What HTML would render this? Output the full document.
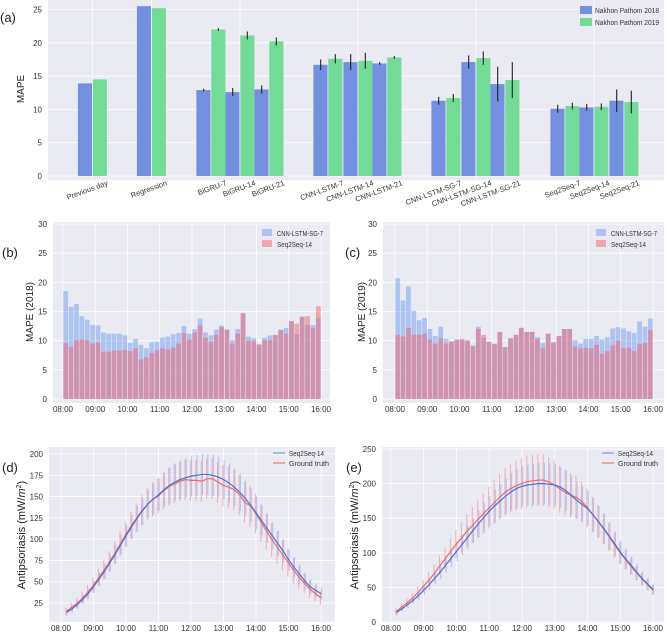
<!DOCTYPE html>
<html><head><meta charset="utf-8"><style>
html,body{margin:0;padding:0;background:#fff;}
svg{display:block;font-family:"Liberation Sans","DejaVu Sans",sans-serif;}
</style></head><body>
<svg id="fig" width="667" height="633" viewBox="0 0 667 633" xmlns="http://www.w3.org/2000/svg"></svg>
<script>
// ---- Panel (a) data ----
const aCats = ["Previous day","Regression","BiGRU-7","BiGRU-14","BiGRU-21","CNN-LSTM-7","CNN-LSTM-14","CNN-LSTM-21","CNN-LSTM-SG-7","CNN-LSTM-SG-14","CNN-LSTM-SG-21","Seq2Seq-7","Seq2Seq-14","Seq2Seq-21"];
const a2018 = [13.9,25.5,12.9,12.6,13.0,16.7,17.1,16.9,11.3,17.1,13.8,10.1,10.3,11.3];
const a2019 = [14.5,25.2,22.0,21.1,20.2,17.6,17.3,17.8,11.7,17.7,14.4,10.5,10.4,11.1];
const aErr2018 = [0,0,0.2,0.6,0.6,0.8,1.2,0.2,0.6,1.0,2.6,0.6,0.5,1.7];
const aErr2019 = [0,0,0.2,0.6,0.6,0.7,1.2,0.2,0.6,1.0,2.7,0.5,0.5,1.7];
const aTicks = [0,5,10,15,20,25];
// ---- Panels (b),(c) data ----
const timeTicks = ["08:00","09:00","10:00","11:00","12:00","13:00","14:00","15:00","16:00"];
const mapeTicks = [0,5,10,15,20,25,30];
const b_cnn = [18.5,15.8,16.3,14.2,13.6,12.7,12.6,11.4,11.2,11.2,11.2,10.9,9.6,10.3,9.3,8.7,9.7,9.8,10.5,10.7,11.1,11.3,12.5,11.2,12.0,13.8,11.4,10.9,11.9,12.6,11.9,10.1,12.0,14.7,10.7,10.4,9.4,10.5,10.9,10.9,11.9,12.2,13.4,11.1,14.1,12.7,12.7,13.9];
const b_seq = [9.6,8.9,10.1,10.2,10.1,9.5,9.7,8.1,8.1,8.3,8.3,8.4,8.2,8.7,6.8,7.1,7.9,8.4,8.7,8.5,8.8,9.5,11.3,10.2,11.4,12.7,10.5,9.8,11.0,12.3,11.9,9.5,11.2,14.7,10.0,10.0,9.3,10.1,10.1,11.0,11.8,11.2,13.3,12.9,14.1,14.2,12.2,15.9];
const c_cnn = [20.7,16.9,19.3,15.1,13.5,13.9,12.0,10.8,12.4,10.3,9.9,10.2,10.1,9.9,9.2,12.4,10.5,9.8,9.5,11.5,8.9,10.4,11.0,12.2,11.5,11.5,10.6,9.6,11.2,9.7,10.8,12.0,12.0,10.1,9.5,10.3,10.3,10.8,10.2,10.6,12.1,12.3,12.1,11.6,11.3,13.3,12.4,13.8];
const c_seq = [11.0,10.7,12.2,11.0,11.0,11.2,10.2,9.5,10.4,9.5,9.8,10.1,10.3,10.1,9.0,12.0,11.0,9.8,9.4,11.5,8.9,10.4,11.0,12.2,11.5,11.5,10.3,8.7,11.2,9.7,10.8,12.0,12.0,9.0,8.7,8.8,8.7,9.3,7.7,8.2,9.2,10.0,8.7,8.8,8.2,9.4,9.6,11.8];
// ---- Panels (d),(e) data ----
const dTicks = [25,50,75,100,125,150,175,200];
const eTicks = [0,50,100,150,200,250];
const d_pred = [14,18,23,29,36,44,53,62,72,82,93,104,114,124,133,141,147,152,158,163,167,170,172,174,175,176,176,175,173,170,166,161,155,148,140,131,122,113,104,95,86,76,67,59,51,44,40,36];
const d_true = [15,20,25,31,38,46,55,64,74,84,95,106,116,125,134,141,147,151,157,162,165,168,170,169,169,168,171,171,167,163,161,158,152,143,139,130,119,109,99,90,81,72,63,55,48,41,36,31];
const d_predErr = [4,4,5,5,6,7,8,9,10,11,12,13,14,15,16,17,18,19,20,21,22,23,23,24,24,24,24,24,24,23,23,22,22,21,20,19,18,17,16,15,14,13,12,11,10,9,8,7];
const d_trueErr = [4,5,6,7,8,9,10,11,12,13,14,15,16,17,18,19,20,21,22,22,23,23,24,24,24,24,24,24,24,24,24,24,24,24,24,23,22,21,20,19,18,16,15,13,12,10,9,8];
const e_pred = [14,19,25,31,38,46,54,63,72,82,92,102,112,122,132,142,151,160,168,175,182,188,193,196,198,199,200,200,199,198,195,190,183,176,170,164,155,145,135,124,113,101,91,82,72,63,55,47];
const e_true = [15,22,28,35,43,52,61,71,82,92,103,113,122,132,140,149,157,165,173,181,188,193,197,200,203,204,205,205,202,198,192,187,183,180,174,165,155,145,134,123,111,100,90,80,71,62,54,46];
const e_predErr = [4,4,5,5,6,7,8,9,10,11,12,14,15,17,18,20,21,22,24,25,26,27,28,29,29,30,30,30,30,30,29,29,28,27,26,25,24,23,22,20,18,17,15,13,12,10,9,8];
const e_trueErr = [5,5,6,7,8,9,11,12,14,16,18,20,22,24,26,27,29,30,32,33,34,35,36,37,38,38,38,37,36,35,34,33,32,31,29,28,26,24,22,20,18,16,14,12,10,9,8,7];

const NS="http://www.w3.org/2000/svg";
const svg=document.getElementById('fig');
function mk(tag,attrs,parent,txt){const e=document.createElementNS(NS,tag);for(const k in attrs)e.setAttribute(k,attrs[k]);if(txt!==undefined)e.textContent=txt;(parent||svg).appendChild(e);return e;}

function panelBg(x0,y0,x1,y1,name){
  const r=mk('rect',{x:x0,y:y0,width:x1-x0,height:y1-y0,fill:'#eaeaf2'});
  
  
}
function hgrid(x0,x1,y,lbl,name){
  const l=mk('line',{x1:x0,x2:x1,y1:y,y2:y,stroke:'#fff','stroke-width':0.8});
  
  
  const t=mk('text',{x:x0-6,y:y+3,'font-size':8,'text-anchor':'end',fill:'#333'},svg,lbl);
  
  
}
function vgrid(x,y0,y1,lbl,ly){
  const l=mk('line',{x1:x,x2:x,y1:y0,y2:y1,stroke:'#fff','stroke-width':0.8});
  
  
  const t=mk('text',{x:x,y:ly,'font-size':8,'text-anchor':'middle',fill:'#333'},svg,lbl);
  
  
}
function label(x,y,txt,name,size){
  const t=mk('text',{x:x,y:y,'font-size':size||14,fill:'#222'},svg,txt);
  
  
}
function ylab(x,y,txt,name,size){
  const t=mk('text',{x:x,y:y,'font-size':size||10,'text-anchor':'middle',fill:'#222',transform:`rotate(-90 ${x} ${y})`},svg,txt);
  
  
  return t;
}

// ===== Panel (a) =====
(function(){
  const X0=48,X1=664,Y0=0,Y1=180;
  const ya=v=>176-v*(166.5/25);
  panelBg(X0,Y0,X1,Y1,'panel-a-plot-area');
  aTicks.forEach(v=>hgrid(X0,X1,ya(v),String(v),'y-tick-label'));
  const centers=[92.5,151.5,211,240,269,328,358,387,446,476,505,565,594,624];
  const bw=14.6;
  [92.5,151.5,240,358,476,594].forEach(cx=>{const l=mk('line',{x1:cx,x2:cx,y1:Y0,y2:Y1,stroke:'#fff','stroke-width':0.8});});
  aCats.forEach((c,i)=>{
    const cx=centers[i];
    const b1=mk('rect',{x:cx-bw,y:ya(a2018[i]),width:bw-0.5,height:ya(0)-ya(a2018[i]),fill:'#7390e0'});
    
    
    const b2=mk('rect',{x:cx+0.3,y:ya(a2019[i]),width:bw-0.5,height:ya(0)-ya(a2019[i]),fill:'#72db96'});
    
    
    if(aErr2018[i]>0){const e=mk('line',{x1:cx-bw/2,x2:cx-bw/2,y1:ya(a2018[i]-aErr2018[i]),y2:ya(a2018[i]+aErr2018[i]),stroke:'#222','stroke-width':1.1});}
    if(aErr2019[i]>0){const e=mk('line',{x1:cx+bw/2,x2:cx+bw/2,y1:ya(a2019[i]-aErr2019[i]),y2:ya(a2019[i]+aErr2019[i]),stroke:'#222','stroke-width':1.1});}
    const tx=cx+16,ty=185;
    const t=mk('text',{x:tx,y:ty,'font-size':7.5,'text-anchor':'end',fill:'#333',transform:`rotate(-20 ${tx} ${ty})`},svg,c);
    
    
  });
  ylab(24,89,'MAPE','y-axis-title',10);
  label(0,22,'(a)','panel-label-a',13);
  const l1=mk('rect',{x:580,y:6,width:12,height:8,fill:'#7390e0'});
  const t1=mk('text',{x:595,y:13,'font-size':7,fill:'#333',textLength:64,lengthAdjust:'spacingAndGlyphs'},svg,'Nakhon Pathom 2018');
  const l2=mk('rect',{x:580,y:18,width:12,height:8,fill:'#72db96'});
  const t2=mk('text',{x:595,y:25,'font-size':7,fill:'#333',textLength:64,lengthAdjust:'spacingAndGlyphs'},svg,'Nakhon Pathom 2019');
})();

// ===== Panels (b),(c) =====
function histPanel(X0,X1,t0,t1,cnn,seq,ytitle,tag,labX,labY,yTitleX){
  const Y0=222,Y1=403;
  const yb=v=>399-v*(175/30);
  const xt=h=>t0+(t1-t0)*h/8;
  panelBg(X0,Y0,X1,Y1,'panel-'+tag+'-plot-area');
  mapeTicks.forEach(v=>hgrid(X0,X1,yb(v),String(v),'y-tick-label'));
  timeTicks.forEach((s,i)=>vgrid(xt(i),Y0,Y1,s,412));
  const bw=(t1-t0)/48;
  cnn.forEach((v,i)=>{
    const r=mk('rect',{x:xt(i/6)+0.3,y:yb(v),width:bw-0.6,height:yb(0)-yb(v),fill:'#6f9cf2','fill-opacity':0.5});
    
    
  });
  seq.forEach((v,i)=>{
    const r=mk('rect',{x:xt(i/6)+0.3,y:yb(v),width:bw-0.6,height:yb(0)-yb(v),fill:'#f2626c','fill-opacity':0.5});
    
    
  });
  ylab(yTitleX,312,ytitle,'y-axis-title',10);
  label(labX,labY,'('+tag+')','panel-label-'+tag,13);
  const lx=X1-68;
  const s1=mk('rect',{x:lx,y:229,width:10,height:7,fill:'#6f9cf2','fill-opacity':0.5});
  const e1=mk('text',{x:lx+15,y:236,'font-size':7,fill:'#333',textLength:46,lengthAdjust:'spacingAndGlyphs'},svg,'CNN-LSTM-SG-7');
  const s2=mk('rect',{x:lx,y:240,width:10,height:7,fill:'#f2626c','fill-opacity':0.5});
  const e2=mk('text',{x:lx+15,y:247,'font-size':7,fill:'#333',textLength:35,lengthAdjust:'spacingAndGlyphs'},svg,'Seq2Seq-14');
}
histPanel(53,330,63,321,b_cnn,b_seq,'MAPE (2018)','b',2,257,33);
histPanel(383,664,395,653,c_cnn,c_seq,'MAPE (2019)','c',345,257,365);

// ===== Panels (d),(e) =====
function linePanel(X0,X1,t0,t1,yfn,ticks,pred,truth,pErr,tErr,tag,labX,yTitleX){
  const Y0=447,Y1=622;
  const xt=h=>t0+(t1-t0)*h/8;
  panelBg(X0,Y0,X1,Y1,'panel-'+tag+'-plot-area');
  ticks.forEach(v=>hgrid(X0,X1,yfn(v),String(v),'y-tick-label'));
  timeTicks.forEach((s,i)=>vgrid(xt(i),Y0,Y1,s,631));
  const px=i=>xt((i+1)/6);
  truth.forEach((v,i)=>{const e=mk('line',{x1:px(i)-0.6,x2:px(i)-0.6,y1:yfn(v-tErr[i]),y2:yfn(v+tErr[i]),stroke:'#f38a8a','stroke-width':1,'stroke-opacity':0.65});});
  pred.forEach((v,i)=>{const e=mk('line',{x1:px(i)+0.6,x2:px(i)+0.6,y1:yfn(v-pErr[i]),y2:yfn(v+pErr[i]),stroke:'#8aa8ee','stroke-width':1,'stroke-opacity':0.65});});
  const lt=mk('polyline',{points:truth.map((v,i)=>px(i)+','+yfn(v)).join(' '),fill:'none',stroke:'#ee6a6a','stroke-width':1.2});
  
  const lp=mk('polyline',{points:pred.map((v,i)=>px(i)+','+yfn(v)).join(' '),fill:'none',stroke:'#4a6fd8','stroke-width':1.2});
  
  const t=ylab(yTitleX,535,'','y-axis-title',11);
  t.textContent='Antipsoriasis (mW/';
  const ts=mk('tspan',{'font-style':'italic'},t,'m');
  const sup=mk('tspan',{dy:-4,'font-size':7},t,'2');
  const cl=mk('tspan',{dy:4},t,')');
  label(labX,472,'('+tag+')','panel-label-'+tag,13);
  const lx=X1-62;
  const s1=mk('line',{x1:lx,x2:lx+12,y1:453,y2:453,stroke:'#8aa8ee','stroke-width':1.5});
  const e1=mk('text',{x:lx+16,y:456,'font-size':7,fill:'#333',textLength:35,lengthAdjust:'spacingAndGlyphs'},svg,'Seq2Seq-14');
  const s2=mk('line',{x1:lx,x2:lx+12,y1:463,y2:463,stroke:'#f38a8a','stroke-width':1.5});
  const e2=mk('text',{x:lx+16,y:466,'font-size':7,fill:'#333',textLength:40,lengthAdjust:'spacingAndGlyphs'},svg,'Ground truth');
}
linePanel(49,335,61,321,v=>603-(v-25)*(149/175),dTicks,d_pred,d_true,d_predErr,d_trueErr,'d',2,25);
linePanel(382,664,391,653,v=>622-v*(173/250),eTicks,e_pred,e_true,e_predErr,e_trueErr,'e',346,358);
</script>
</body></html>
